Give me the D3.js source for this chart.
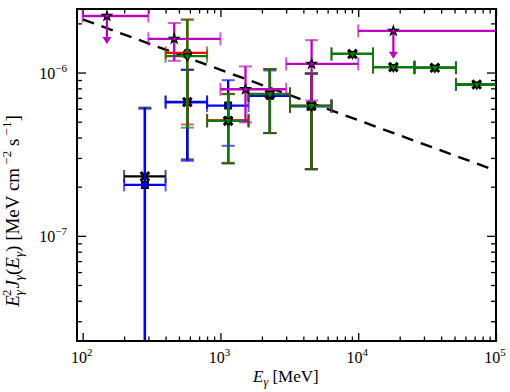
<!DOCTYPE html>
<html>
<head>
<meta charset="utf-8">
<script src="https://cdn.jsdelivr.net/npm/d3@7"></script>
<style>
  body { margin: 0; background: #fff; }
  svg text { font-family: "Liberation Serif", "Times New Roman", serif; fill: #000; }
</style>
</head>
<body>
<div id="chart"></div>
<script>
// energy bins [MeV]
var binLo  = [200, 400, 800, 1600, 3200, 6400, 12800, 25600, 51200];
var binHi  = [400, 800, 1600, 3200, 6400, 12800, 25600, 51200, 102400];
var binMid = [283, 575, 1138, 2285, 4570, 9080, 18000, 36000, 72400];

// E^2 J values per bin (null = no point)
var blackVal = [2.31e-7, 6.6e-7, 5.06e-7, 7.38e-7, 6.25e-7, 1.30e-6, 1.08e-6, 1.07e-6, 8.45e-7];
var blackHi  = [6.1e-7, 1.04e-6, 7.38e-7, 1.05e-6, 9.86e-7, null, null, null, null];
var blackLo  = [1e-9, 2.94e-7, 2.78e-7, 4.26e-7, 2.56e-7, null, null, null, null];

var blueVal = [2.05e-7, 6.59e-7, 6.28e-7, 7.2e-7, 6.2e-7, null, null, null, null];
var blueHi  = [6.0e-7, 1.04e-6, 8.98e-7, 1.03e-6, 9.86e-7, null, null, null, null];
var blueLo  = [1e-9, 2.88e-7, 3.56e-7, 4.26e-7, 2.56e-7, null, null, null, null];

var redVal = [null, 1.32e-6, 5.1e-7, 7.4e-7, 6.25e-7, null, null, null, null];
var redHi  = [null, 2.12e-6, 7.4e-7, 1.05e-6, 9.9e-7, null, null, null, null];
var redLo  = [null, 4.81e-7, 2.8e-7, 4.26e-7, 2.56e-7, null, null, null, null];

var greenVal = [null, 1.26e-6, 5.06e-7, 7.38e-7, 6.25e-7, 1.30e-6, 1.08e-6, 1.07e-6, 8.45e-7];
var greenHi  = [null, 2.10e-6, 7.38e-7, 1.05e-6, 9.86e-7, null, null, null, null];
var greenLo  = [null, 4.6e-7, 2.78e-7, 4.26e-7, 2.56e-7, null, null, null, null];

// magenta points (stars), own bins, some are upper limits
var magLo  = [100, 300, 1000, 3000, 10000];
var magHi  = [300, 1000, 3000, 10000, 100000];
var magMid = [150, 462, 1520, 4590, 18000];
var magVal = [2.22e-6, 1.61e-6, 7.9e-7, 1.13e-6, 1.80e-6];
var magErrHi = [null, 2.01e-6, 1.09e-6, 1.58e-6, null];
var magErrLo = [null, 1.18e-6, 4.95e-7, 6.74e-7, null];
var magUL  = [true, false, false, false, true];

// dashed model line
var modelE = [100, 100000];
var modelF = [2.12e-6, 2.51e-7];

var xMajor = [1e2, 1e3, 1e4, 1e5];
var xMinor = [200,300,400,500,600,700,800,900,2000,3000,4000,5000,6000,7000,8000,9000,
              20000,30000,40000,50000,60000,70000,80000,90000];
var yMajor = [1e-7, 1e-6];
var yMinor = [3e-8,4e-8,5e-8,6e-8,7e-8,8e-8,9e-8,2e-7,3e-7,4e-7,5e-7,6e-7,7e-7,8e-7,9e-7,2e-6];

var margin = {top: 9, right: 14, bottom: 51, left: 77},
    width = 510 - margin.left - margin.right,
    height = 392 - margin.top - margin.bottom;

var svg = d3.select("#chart").append("svg")
    .attr("width", 510).attr("height", 392)
    .style("font-family", "'Liberation Serif', 'Times New Roman', serif")
  .append("g")
    .attr("transform", "translate(" + margin.left + "," + margin.top + ")");

var x = d3.scaleLog().domain([91, 1e5]).range([0, width]);
var y = d3.scaleLog().domain([2.27e-8, 2.45e-6]).range([height, 0]);

svg.append("clipPath").attr("id", "clip")
  .append("rect").attr("width", width).attr("height", height);

// ticks on all four sides, pointing in
function ticks(axis, vals, size, tr) {
    var g = svg.append("g").attr("transform", tr)
        .call(axis.tickValues(vals).tickSize(size).tickSizeOuter(0).tickFormat(""));
    g.select(".domain").remove();
    g.selectAll("line").attr("stroke", "#000").attr("stroke-width", 1.3);
}
ticks(d3.axisBottom(x), xMajor, -8, "translate(0," + height + ")");
ticks(d3.axisBottom(x), xMinor, -4.5, "translate(0," + height + ")");
ticks(d3.axisTop(x), xMajor, -8, "translate(0,0)");
ticks(d3.axisTop(x), xMinor, -4.5, "translate(0,0)");
ticks(d3.axisLeft(y), yMajor, -9, "translate(0,0)");
ticks(d3.axisLeft(y), yMinor, -5, "translate(0,0)");
ticks(d3.axisRight(y), yMajor, -9, "translate(" + width + ",0)");
ticks(d3.axisRight(y), yMinor, -5, "translate(" + width + ",0)");

// tick labels as 10^n
xMajor.forEach(function(v) {
    var t = svg.append("text")
        .attr("x", x(v) - 1).attr("y", height + 22)
        .attr("text-anchor", "middle").style("font-size", "16px");
    t.append("tspan").text("10");
    t.append("tspan").attr("dy", -7).style("font-size", "11px").text(Math.round(Math.log10(v)));
});
yMajor.forEach(function(v) {
    var t = svg.append("text")
        .attr("x", -10).attr("y", y(v) + 6)
        .attr("text-anchor", "end").style("font-size", "16px");
    t.append("tspan").text("10");
    t.append("tspan").attr("dy", -7).style("font-size", "11px").text("\u2212" + Math.round(-Math.log10(v)));
});

var plot = svg.append("g").attr("clip-path", "url(#clip)");

// dashed model
plot.append("path")
    .datum(modelE.map(function(e, i) { return [e, modelF[i]]; }))
    .attr("d", d3.line().x(function(d) { return x(d[0]); }).y(function(d) { return y(d[1]); }))
    .attr("fill", "none").attr("stroke", "#000")
    .attr("stroke-width", 2.4).attr("stroke-dasharray", "12,8");

var sym = {
    x: d3.symbol().type(d3.symbolTimes).size(50),
    square: d3.symbol().type(d3.symbolSquare).size(45),
    circle: d3.symbol().type(d3.symbolCircle).size(45),
    tri: d3.symbol().type(d3.symbolTriangle).size(30),
    star: d3.symbol().type(d3.symbolStar).size(28)
};

function series(color, mid, lo, hi, val, eLo, eHi, marker, opts) {
    opts = opts || {};
    var pts = [];
    val.forEach(function(v, i) {
        if (v != null) pts.push({e: mid[i], lo: lo[i], hi: hi[i], v: v, el: eLo[i], eh: eHi[i], ul: opts.ul ? opts.ul[i] : false});
    });
    var g = plot.append("g");
    pts.forEach(function(d) {
        var cx = x(d.e), cy = y(d.v);
        // x error bar + caps
        g.append("line").attr("x1", x(d.lo)).attr("x2", x(d.hi)).attr("y1", cy).attr("y2", cy)
            .attr("stroke", color).attr("stroke-width", 2.3);
        [d.lo, d.hi].forEach(function(b) {
            g.append("line").attr("x1", x(b)).attr("x2", x(b)).attr("y1", cy - 6.5).attr("y2", cy + 6.5)
                .attr("stroke", color).attr("stroke-width", 2).attr("opacity", 0.65);
        });
        // y error bar + caps
        if (d.eh != null) {
            g.append("line").attr("x1", cx).attr("x2", cx).attr("y1", y(d.el)).attr("y2", y(d.eh))
                .attr("stroke", color).attr("stroke-width", 2.3);
            [d.el, d.eh].forEach(function(b) {
                g.append("line").attr("x1", cx - 6.5).attr("x2", cx + 6.5).attr("y1", y(b)).attr("y2", y(b))
                    .attr("stroke", color).attr("stroke-width", 2).attr("opacity", 0.65);
            });
        }
        // upper limit arrow
        if (d.ul) {
            g.append("line").attr("x1", cx).attr("x2", cx).attr("y1", cy).attr("y2", cy + 22)
                .attr("stroke", color).attr("stroke-width", 2.3);
            g.append("path")
                .attr("d", "M" + (cx - 4.5) + "," + (cy + 21) + "L" + (cx + 4.5) + "," + (cy + 21) + "L" + cx + "," + (cy + 28) + "Z")
                .attr("fill", color);
        }
    });
    // markers on top
    pts.forEach(function(d) {
        var m = g.append("path").attr("d", sym[marker]())
            .attr("transform", "translate(" + x(d.e) + "," + y(d.v) + ")" + (marker == "tri" ? " rotate(180)" : ""));
        if (marker == "x") m.attr("fill", "none").attr("stroke", "#000").attr("stroke-width", 3);
        else m.attr("fill", color).attr("stroke", "#000").attr("stroke-width", 1.2);
    });
}

series("#000000", binMid, binLo, binHi, blackVal, blackLo, blackHi, "x");
series("#0000ff", binMid, binLo, binHi, blueVal, blueLo, blueHi, "square");
series("#ff0000", binMid, binLo, binHi, redVal, redLo, redHi, "circle");
series("#008000", binMid, binLo, binHi, greenVal, greenLo, greenHi, "tri");
series("#c000c0", magMid, magLo, magHi, magVal, magErrLo, magErrHi, "star", {ul: magUL});

// frame
svg.append("rect").attr("width", width).attr("height", height)
    .attr("fill", "none").attr("stroke", "#000").attr("stroke-width", 2);

// axis labels
var xl = svg.append("text").attr("x", 176).attr("y", height + 41).style("font-size", "17px");
xl.append("tspan").style("font-style", "italic").text("E");
xl.append("tspan").attr("dy", 4).style("font-size", "12px").style("font-style", "italic").text("\u03b3");
xl.append("tspan").attr("dy", -4).text(" [MeV]");

var yl = svg.append("text")
    .attr("transform", "translate(-58," + (height / 2 + 36) + ") rotate(-90)")
    .attr("text-anchor", "middle").style("font-size", "19px");
yl.append("tspan").style("font-style", "italic").text("E");
yl.append("tspan").attr("dy", 4).style("font-size", "13px").style("font-style", "italic").text("\u03b3");
yl.append("tspan").attr("dx", -6).attr("dy", -12).style("font-size", "13px").text("2");
yl.append("tspan").attr("dx", 1).attr("dy", 8).style("font-style", "italic").text("J");
yl.append("tspan").attr("dy", 4).style("font-size", "13px").style("font-style", "italic").text("\u03b3");
yl.append("tspan").attr("dy", -4).text("(");
yl.append("tspan").style("font-style", "italic").text("E");
yl.append("tspan").attr("dy", 4).style("font-size", "13px").style("font-style", "italic").text("\u03b3");
yl.append("tspan").attr("dy", -4).text(") [MeV cm");
yl.append("tspan").attr("dy", -8).style("font-size", "13px").text(" \u22122");
yl.append("tspan").attr("dy", 8).text(" s");
yl.append("tspan").attr("dy", -8).style("font-size", "13px").text(" \u22121");
yl.append("tspan").attr("dy", 8).text("]");
</script>
</body>
</html>
